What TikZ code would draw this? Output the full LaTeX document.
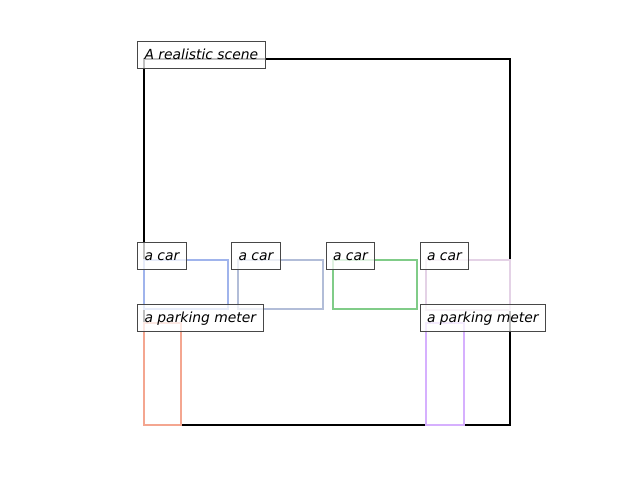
\documentclass[tikz,border=0pt]{standalone}
\usepackage{fontspec}
\setmainfont{DejaVu Sans}
\begin{document}
\begin{tikzpicture}[x=0.72pt,y=-0.72pt,
  lbl/.style={draw=black!72,line width=0.72pt,fill=white,fill opacity=0.75,text opacity=1,
    anchor=base west,inner xsep=5.04pt,inner ysep=0pt,text height=12.96pt,text depth=6.48pt,
    font=\fontsize{10pt}{12pt}\selectfont\itshape},
  bx/.style={line width=1.44pt,line join=miter}]
\useasboundingbox (0,0) rectangle (640,480);
\definecolor{cA}{HTML}{A0B4EC}
\definecolor{cB}{HTML}{B2BDD8}
\definecolor{cC}{HTML}{80CC88}
\definecolor{cD}{HTML}{E4D2E6}
\definecolor{cM}{HTML}{F4A690}
\definecolor{cN}{HTML}{D6B0FE}
\draw[bx,black] (144,59) rectangle (510,425);
\draw[bx,cA] (144,260) rectangle (227.5,309);
\draw[bx,cB] (238,260) rectangle (322.5,309);
\draw[bx,cC] (332.5,260) rectangle (416.5,309);
\draw[bx,cD] (426,260) rectangle (510,309.5);
\draw[bx,cM] (144,322.5) rectangle (180.5,425);
\draw[bx,cN] (426,322.5) rectangle (463.5,425);
\node[lbl] (scene) at (137,59) {A realistic scene};
\node[lbl] (car1) at (137,260) {a car};
\node[lbl] (car2) at (231,260) {a car};
\node[lbl] (car3) at (325.5,260) {a car};
\node[lbl] (car4) at (419.5,260) {a car};
\node[lbl] (meter1) at (137,322) {a parking meter};
\node[lbl] (meter2) at (419.5,322) {a parking meter};
\end{tikzpicture}
\end{document}
